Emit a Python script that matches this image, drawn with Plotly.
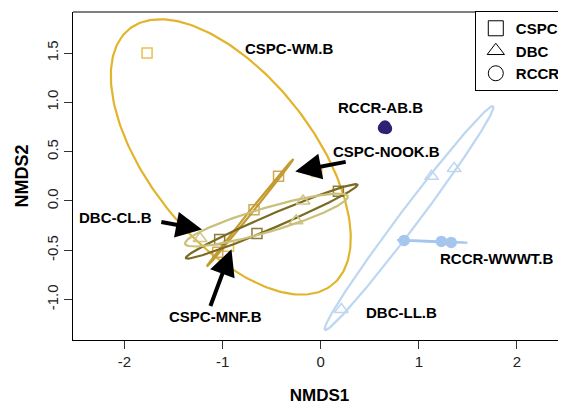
import numpy as np
import plotly.graph_objects as go

# ---------------- data (NMDS scores) ----------------
groups = ["CSPC-WM.B", "CSPC-NOOK.B", "CSPC-MNF.B", "DBC-CL.B", "DBC-LL.B", "RCCR-AB.B", "RCCR-WWWT.B"]
site_type = ["CSPC", "CSPC", "CSPC", "DBC", "DBC", "RCCR", "RCCR"]

wm_x = [-1.77, -0.04, -0.94]
wm_y = [1.50, 0.30, -0.46]
nook_x = [-0.43, -0.68, -1.05]
nook_y = [0.25, -0.09, -0.52]
mnf_x = [-1.03, -0.65, 0.18]
mnf_y = [-0.39, -0.33, 0.10]
cl_x = [-0.18, -0.25, -1.23]
cl_y = [0.00, -0.20, -0.38]
ll_x = [1.13, 1.36, 0.21]
ll_y = [0.25, 0.33, -1.10]
ab_x = [0.64, 0.67, 0.655]
ab_y = [0.74, 0.735, 0.76]
wwwt_x = [0.85, 1.23, 1.33]
wwwt_y = [-0.40, -0.41, -0.42]

group_x = [wm_x, nook_x, mnf_x, cl_x, ll_x, ab_x, wwwt_x]
group_y = [wm_y, nook_y, mnf_y, cl_y, ll_y, ab_y, wwwt_y]

# label positions (data units) and arrows (tail -> head)
label_x = [-0.32, 0.67, -1.07, -2.09, 0.82, 0.61, 1.79]
label_y = [1.55, 0.50, -1.17, -0.17, -1.13, 0.95, -0.58]
arrow_groups = ["CSPC-NOOK.B", "DBC-CL.B", "CSPC-MNF.B"]
arrow_tail_x = [0.27, -1.64, -1.13]
arrow_tail_y = [0.40, -0.21, -1.08]
arrow_head_x = [-0.26, -1.21, -0.91]
arrow_head_y = [0.30, -0.29, -0.49]

x_ticks = [-2, -1, 0, 1, 2]
y_ticks = [-1.0, -0.5, 0.0, 0.5, 1.0, 1.5]

# ---------------- styles ----------------
line_colors = ["#E2B42B", "#C39B2F", "#7B6A22", "#C9C07A", "#BDD7F0", "#2D2375", "#A6C6EE"]
mark_colors = ["#E6C056", "#CFAA55", "#8C7C3C", "#CEC68A", "#BDD7F0", "#2D2375", "#A6C6EE"]
symbols = {"CSPC": "square-open", "DBC": "triangle-up-open", "RCCR": "circle"}
sizes = {"CSPC": 10, "DBC": 12, "RCCR": 10}
FONT = "Liberation Sans, Arial, sans-serif"


def se_ellipse(xs, ys, conf=0.95, npts=240):
    pts = np.column_stack([xs, ys])
    n = len(pts)
    c = pts.mean(axis=0)
    cov = np.cov(pts.T)
    k = np.sqrt(-2 * np.log(1 - conf)) / np.sqrt(n)
    vals, vecs = np.linalg.eigh(cov)
    vals = np.clip(vals, 0, None)
    t = np.linspace(0, 2 * np.pi, npts)
    circ = np.vstack([np.cos(t) * np.sqrt(vals[0]), np.sin(t) * np.sqrt(vals[1])])
    e = vecs @ circ * k
    return c[0] + e[0], c[1] + e[1]


fig = go.Figure()

for g, st, xs, ys, lc, mc in zip(groups, site_type, group_x, group_y, line_colors, mark_colors):
    fig.add_trace(go.Scatter(
        x=xs, y=ys, mode="markers", showlegend=False, hoverinfo="skip",
        marker=dict(symbol=symbols[st], size=sizes[st], color=mc,
                    line=dict(color=mc, width=1.5)),
    ))
    ex, ey = se_ellipse(xs, ys)
    fig.add_trace(go.Scatter(
        x=ex, y=ey, mode="lines", showlegend=False, hoverinfo="skip",
        line=dict(color=lc, width=2.2),
    ))

# legend entries
for st in ["CSPC", "DBC", "RCCR"]:
    fig.add_trace(go.Scatter(
        x=[None], y=[None], mode="markers", name=st,
        marker=dict(symbol=symbols[st] if st != "RCCR" else "circle-open", size=15,
                    color="black", line=dict(color="black", width=1)),
    ))

# group labels
for g, lx, ly in zip(groups, label_x, label_y):
    fig.add_annotation(x=lx, y=ly, text="<b>%s</b>" % g, showarrow=False,
                       font=dict(family=FONT, size=15, color="black"))

# arrows
for g, tx, ty, hx, hy in zip(arrow_groups, arrow_tail_x, arrow_tail_y, arrow_head_x, arrow_head_y):
    fig.add_annotation(x=hx, y=hy, ax=tx, ay=ty, xref="x", yref="y", axref="x", ayref="y",
                       text="", showarrow=True, arrowhead=2, arrowsize=1.3, arrowwidth=4,
                       arrowcolor="black", standoff=0)

# top frame line (no visible right border in the reference)
fig.add_shape(type="line", xref="paper", yref="paper", x0=0, x1=1, y0=1, y1=1,
              line=dict(color="black", width=1))

# page body adds an 8px offset, so the figure is sized/margined accordingly
fig.update_layout(
    width=558, height=397,
    margin=dict(l=65, r=0, t=4, b=65, autoexpand=False),
    plot_bgcolor="white", paper_bgcolor="white",
    font=dict(family=FONT, size=14, color="black"),
    showlegend=True,
    legend=dict(x=0.815, y=1.003, xanchor="left", yanchor="top",
                bordercolor="black", borderwidth=1, bgcolor="white",
                font=dict(family=FONT, size=15, color="black", weight="bold"),
                itemsizing="trace", tracegroupgap=0),
)
fig.update_xaxes(
    range=[-2.525, 2.5], tickvals=x_ticks, ticktext=[str(v) for v in x_ticks],
    showgrid=False, zeroline=False, showline=True, linecolor="black", linewidth=1, mirror=False,
    ticks="outside", ticklen=8, tickcolor="#333", tickfont=dict(size=15, color="#222"),
    title=dict(text="<b>NMDS1</b>", font=dict(size=17), standoff=22), automargin=False,
)
fig.update_yaxes(
    range=[-1.41, 1.917], tickvals=y_ticks, ticktext=["%.1f" % v for v in y_ticks],
    showgrid=False, zeroline=False, showline=True, linecolor="black", linewidth=1, mirror=False,
    ticks="outside", ticklen=8, tickcolor="#333", tickangle=-90, tickfont=dict(size=15, color="#222"),
    title=dict(text="<b>NMDS2</b>", font=dict(size=18), standoff=10), automargin=False,
)

fig.write_html("out.html")
